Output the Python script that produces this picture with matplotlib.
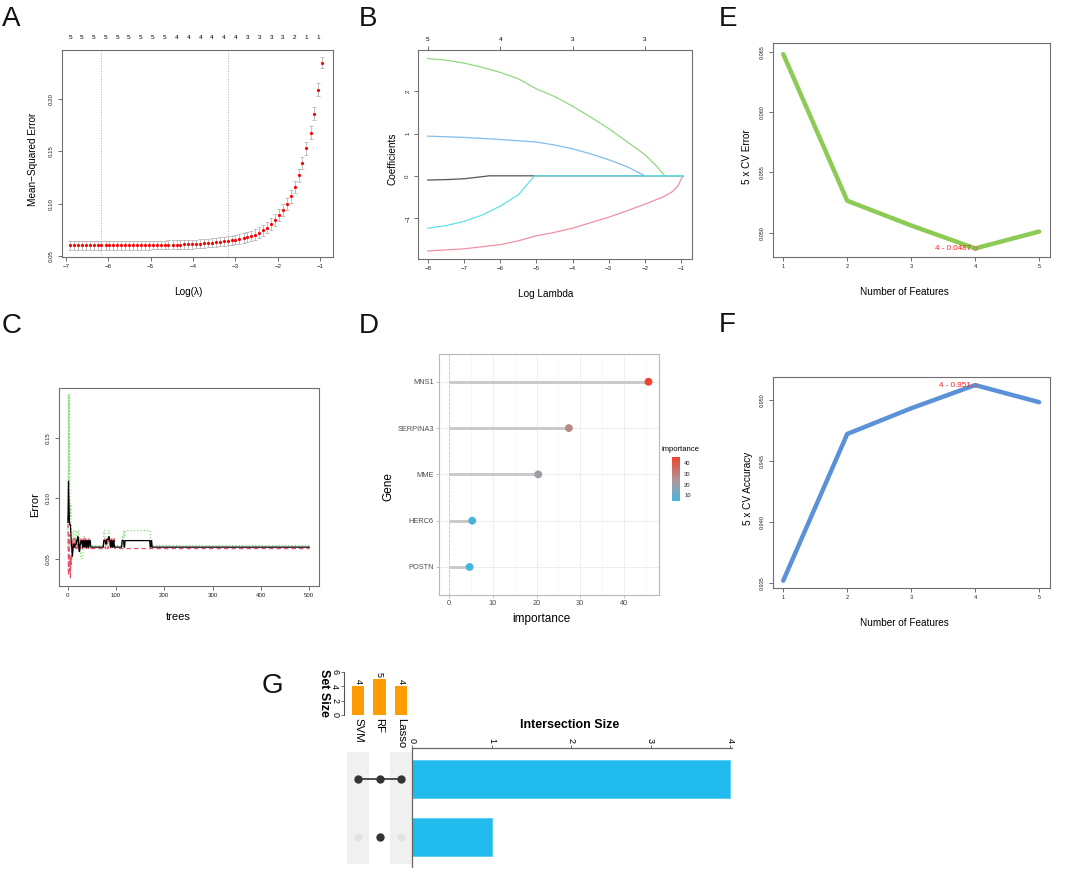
import numpy as np
import matplotlib
matplotlib.use("Agg")
import matplotlib.pyplot as plt
from matplotlib.colors import LinearSegmentedColormap, Normalize

# ======================= DATA =======================
# --- A: cross-validated lasso (cv.glmnet) ---
log_lambda = [-6.90, -6.81, -6.71, -6.62, -6.53, -6.44, -6.34, -6.25, -6.16, -6.06,
              -5.97, -5.88, -5.79, -5.69, -5.60, -5.51, -5.41, -5.32, -5.23, -5.13,
              -5.04, -4.95, -4.86, -4.76, -4.67, -4.58, -4.48, -4.39, -4.30, -4.21,
              -4.11, -4.02, -3.93, -3.83, -3.74, -3.65, -3.56, -3.46, -3.37, -3.28,
              -3.18, -3.09, -3.00, -2.91, -2.81, -2.72, -2.63, -2.53, -2.44, -2.35,
              -2.25, -2.16, -2.07, -1.98, -1.88, -1.79, -1.70, -1.60, -1.51, -1.42,
              -1.33, -1.23, -1.14, -1.05, -0.95]
cv_mse = [0.0602, 0.0602, 0.0602, 0.0602, 0.0602, 0.0602, 0.0602, 0.0602, 0.0602, 0.0602,
          0.0602, 0.0602, 0.0602, 0.0602, 0.0602, 0.0603, 0.0603, 0.0603, 0.0603, 0.0603,
          0.0603, 0.0604, 0.0604, 0.0604, 0.0605, 0.0606, 0.0607, 0.0608, 0.0609, 0.0610,
          0.0611, 0.0613, 0.0615, 0.0617, 0.0620, 0.0623, 0.0627, 0.0631, 0.0635, 0.0640,
          0.0645, 0.0651, 0.0657, 0.0664, 0.0671, 0.0680, 0.0690, 0.0704, 0.0722, 0.0745,
          0.0772, 0.0805, 0.0845, 0.0890, 0.0940, 0.1000, 0.1070, 0.1160, 0.1270, 0.1390,
          0.1530, 0.1680, 0.1860, 0.2090, 0.2350]
cv_sd = [0.0042, 0.0042, 0.0042, 0.0042, 0.0042, 0.0042, 0.0042, 0.0042, 0.0042, 0.0042,
         0.0042, 0.0042, 0.0042, 0.0042, 0.0042, 0.0042, 0.0042, 0.0042, 0.0042, 0.0042,
         0.0042, 0.0042, 0.0042, 0.0042, 0.0042, 0.0042, 0.0042, 0.0042, 0.0042, 0.0042,
         0.0042, 0.0042, 0.0042, 0.0042, 0.0042, 0.0042, 0.0042, 0.0042, 0.0042, 0.0042,
         0.0043, 0.0044, 0.0045, 0.0046, 0.0047, 0.0048, 0.0049, 0.0050, 0.0051, 0.0052,
         0.0053, 0.0054, 0.0055, 0.0056, 0.0057, 0.0058, 0.0059, 0.0060, 0.0060, 0.0060,
         0.0060, 0.0061, 0.0062, 0.0060, 0.0055]
nonzero_counts = [5, 5, 5, 5, 5, 5, 5, 5, 5, 4, 4, 4, 4, 4, 4, 3, 3, 3, 3, 2, 1, 1]
log_lambda_min = -6.16
log_lambda_1se = -3.18

# --- B: lasso coefficient paths ---
path_black_x = [-8.0, -7.5, -7.0, -6.6, -6.3, -0.95]
path_black_y = [-0.10, -0.09, -0.07, -0.03, 0.0, 0.0]
path_pink_x = [-8.0, -7.0, -6.0, -5.5, -5.0, -4.5, -4.0, -3.5, -3.0, -2.5, -2.0, -1.5, -1.25, -1.1, -0.95]
path_pink_y = [-1.78, -1.73, -1.63, -1.54, -1.42, -1.34, -1.24, -1.11, -0.98, -0.83, -0.67, -0.50, -0.38, -0.25, 0.0]
path_green_x = [-8.0, -7.5, -7.0, -6.5, -6.0, -5.5, -5.0, -4.5, -4.0, -3.5, -3.0, -2.5, -2.0, -1.7, -1.45, -0.95]
path_green_y = [2.78, 2.74, 2.67, 2.57, 2.45, 2.30, 2.06, 1.88, 1.65, 1.39, 1.12, 0.81, 0.50, 0.25, 0.0, 0.0]
path_blue_x = [-8.0, -7.0, -6.0, -5.0, -4.5, -4.0, -3.5, -3.0, -2.5, -2.0, -0.95]
path_blue_y = [0.94, 0.91, 0.86, 0.80, 0.73, 0.64, 0.52, 0.38, 0.22, 0.0, 0.0]
path_cyan_x = [-8.0, -7.5, -7.0, -6.5, -6.0, -5.5, -5.05, -0.95]
path_cyan_y = [-1.24, -1.18, -1.08, -0.93, -0.72, -0.45, 0.0, 0.0]
path_top_at = [-8, -6, -4, -2]
path_top_labels = ["5", "4", "3", "3"]

# --- C: random forest error vs trees (value holds from each start tree) ---
n_trees = 500
oob_start = [1, 2, 3, 4, 5, 7, 8, 10, 11, 12, 14, 16, 19, 21, 23, 24, 26, 28, 31, 33, 35, 37, 39,
             41, 43, 45, 48, 75, 79, 81, 85, 87, 89, 91, 93, 95, 97, 113, 117, 119, 171, 173, 175]
oob_val = [0.080, 0.114, 0.095, 0.080, 0.078, 0.070, 0.060, 0.052, 0.056, 0.062, 0.0595, 0.062,
           0.0649, 0.068, 0.062, 0.056, 0.062, 0.0649, 0.0595, 0.0649, 0.0595, 0.0649, 0.0595,
           0.0649, 0.0595, 0.0649, 0.0595, 0.0649, 0.062, 0.066, 0.068, 0.0649, 0.0595, 0.0649,
           0.0595, 0.0649, 0.0595, 0.0649, 0.0595, 0.0649, 0.0595, 0.0649, 0.0595]
cls1_start = [1, 2, 3, 4, 5, 6, 7, 8, 9, 10, 12, 14, 15, 17, 18, 20, 21, 23, 24, 27, 28, 31, 32,
              35, 36, 39, 40, 43, 44, 46, 75, 78, 80, 83, 85, 88, 90, 93, 95, 98]
cls1_val = [0.085, 0.036, 0.070, 0.040, 0.052, 0.034, 0.050, 0.045, 0.066, 0.0583, 0.0663, 0.0583,
            0.0663, 0.0583, 0.0663, 0.0583, 0.0663, 0.0583, 0.0663, 0.0583, 0.0663, 0.0583, 0.0663,
            0.0583, 0.0663, 0.0583, 0.0663, 0.0583, 0.0663, 0.0583, 0.0663, 0.0583, 0.0663, 0.0583,
            0.0663, 0.0583, 0.0663, 0.0583, 0.0663, 0.0583]
cls2_start = [1, 2, 3, 4, 5, 6, 7, 8, 9, 11, 14, 17, 20, 22, 24, 27, 32, 34, 38, 75, 78, 84, 88,
              113, 115, 116, 118, 120, 172]
cls2_val = [0.060, 0.186, 0.110, 0.186, 0.100, 0.085, 0.095, 0.0608, 0.050, 0.0732, 0.0608, 0.0732,
            0.0608, 0.0732, 0.0608, 0.050, 0.0608, 0.068, 0.0608, 0.0732, 0.0608, 0.0732, 0.0608,
            0.068, 0.0608, 0.0732, 0.068, 0.0732, 0.0608]

# --- D: RF gene importance ---
genes = ["POSTN", "HERC6", "MME", "SERPINA3", "MNS1"]
importance = [4.7, 5.3, 20.4, 27.4, 45.6]

# --- E / F: SVM-RFE ---
n_features = [1, 2, 3, 4, 5]
cv_error = [0.0648, 0.05265, 0.0506, 0.0487, 0.0501]
cv_accuracy = [0.9352, 0.9472, 0.9493, 0.9512, 0.9498]

# --- G: UpSet ---
set_names = ["SVM", "RF", "Lasso"]
set_sizes = [4, 5, 4]
inter_members = [[1, 1, 1], [0, 1, 0]]
inter_sizes = [4, 1]

# ======================= FIGURE =======================
W, H = 1065, 873
plt.rcParams['font.family'] = ['Liberation Sans', 'DejaVu Sans']
fig = plt.figure(figsize=(W / 100, H / 100), dpi=100)


def add_ax(l, t, r, b):
    return fig.add_axes([l / W, 1 - b / H, (r - l) / W, (b - t) / H])


def ftext(x, y, s, **kw):
    return fig.text(x / W, 1 - y / H, s, **kw)


def r_style(ax, xticks, yticks, ylabels=None, lsize=4.4):
    ax.set_xticks(xticks)
    ax.set_yticks(yticks)
    if ylabels is not None:
        ax.set_yticklabels(ylabels)
    for s in ax.spines.values():
        s.set_color('#6e6e6e')
        s.set_linewidth(0.8)
    ax.tick_params(direction='out', length=3, width=0.6, color='#555555',
                   labelcolor='#222222', labelsize=lsize, pad=2.2)
    ax.tick_params(axis='y', labelrotation=90, pad=2.6)
    for lb in ax.get_yticklabels():
        lb.set_va('center')


LAB = 7.2
letter_kw = dict(fontsize=20, ha='left', va='top', color='#111111')

# ---------------- A ----------------
axA = add_ax(62, 50, 333, 257)
axA.errorbar(log_lambda, cv_mse, yerr=cv_sd, fmt='none', ecolor='#b5b5b5',
             elinewidth=0.6, capsize=1.6, capthick=0.6, zorder=2)
axA.plot(log_lambda, cv_mse, 'o', color='#ff0000', ms=2.3, mec='none', zorder=3)
axA.axvline(log_lambda_min, color='#b0b0b0', ls=':', lw=0.7)
axA.axvline(log_lambda_1se, color='#b0b0b0', ls=':', lw=0.7)
axA.set_xlim(-7.09, -0.70)
axA.set_ylim(0.049, 0.247)
r_style(axA, [-7, -6, -5, -4, -3, -2, -1], [0.05, 0.10, 0.15, 0.20],
        ['0.05', '0.10', '0.15', '0.20'])
secA = axA.secondary_xaxis('top')
secA.set_xticks(log_lambda[::3], labels=[str(n) for n in nonzero_counts])
secA.tick_params(length=0, labelsize=4.6, pad=7)
secA.spines['top'].set_visible(False)
ftext(33, 159, 'Mean\u2212Squared Error', rotation=90, ha='center', va='center', fontsize=LAB)
ftext(188, 292, 'Log(\u03bb)', ha='center', va='center', fontsize=LAB)
ftext(2, 6, 'A', **letter_kw)

# ---------------- B ----------------
axB = add_ax(418, 50, 692, 259)
axB.plot(path_black_x, path_black_y, color='#555555', lw=0.9)
axB.plot(path_pink_x, path_pink_y, color='#ee91a4', lw=0.9)
axB.plot(path_green_x, path_green_y, color='#93d682', lw=0.9)
axB.plot(path_blue_x, path_blue_y, color='#82bdec', lw=0.9)
axB.plot(path_cyan_x, path_cyan_y, color='#5fe3e6', lw=0.9)
axB.set_xlim(-8.27, -0.70)
axB.set_ylim(-1.97, 2.98)
r_style(axB, [-8, -7, -6, -5, -4, -3, -2, -1], [-1, 0, 1, 2])
secB = axB.secondary_xaxis('top')
secB.set_xticks(path_top_at, labels=path_top_labels)
secB.tick_params(direction='out', length=3, width=0.6, color='#555555', labelsize=4.6, pad=2.5)
secB.spines['top'].set_visible(False)
ftext(392, 159, 'Coefficients', rotation=90, ha='center', va='center', fontsize=LAB)
ftext(546, 294, 'Log Lambda', ha='center', va='center', fontsize=LAB)
ftext(359, 6, 'B', **letter_kw)

# ---------------- E ----------------
axE = add_ax(773, 43, 1050, 257)
axE.plot(n_features, cv_error, color='#8ccb55', lw=3.2, solid_capstyle='round')
best_e = int(np.argmin(cv_error))
axE.plot(n_features[best_e], cv_error[best_e], 'o', mfc='none', mec='#e05050', ms=2.6, mew=0.5)
axE.text(n_features[best_e] - 0.07, cv_error[best_e],
         f"{n_features[best_e]} - {cv_error[best_e]:.4f}".replace('0.0487', '0.0487'),
         color='#ff2020', fontsize=5.8, ha='right', va='center')
axE.set_xlim(0.84, 5.17)
axE.set_ylim(0.04799, 0.06572)
r_style(axE, [1, 2, 3, 4, 5], [0.050, 0.055, 0.060, 0.065],
        ['0.050', '0.055', '0.060', '0.065'], lsize=4.0)
ftext(747, 157, '5 x CV Error', rotation=90, ha='center', va='center', fontsize=LAB)
ftext(904, 292, 'Number of Features', ha='center', va='center', fontsize=LAB)
ftext(719, 6, 'E', **letter_kw)

# ---------------- C ----------------
axC = add_ax(59, 388, 319, 586)
trees = np.arange(1, n_trees + 1)


def held(starts, vals):
    idx = np.searchsorted(starts, trees, side='right') - 1
    return np.asarray(vals)[idx]


axC.plot(trees, held(cls2_start, cls2_val), color='#86dc78', ls=':', lw=0.9)
axC.plot(trees, held(cls1_start, cls1_val), color='#e8506c', ls=(0, (3.5, 2.5)), lw=0.9)
axC.plot(trees, held(oob_start, oob_val), color='#000000', lw=0.9)
axC.set_xlim(-17.6, 520)
axC.set_ylim(0.0273, 0.1913)
r_style(axC, [0, 100, 200, 300, 400, 500], [0.05, 0.10, 0.15], ['0.05', '0.10', '0.15'])
ftext(35, 505, 'Error', rotation=90, ha='center', va='center', fontsize=8)
ftext(178, 617, 'trees', ha='center', va='center', fontsize=8)
ftext(2, 313, 'C', **letter_kw)

# ---------------- D ----------------
axD = add_ax(439, 354, 659, 595)
ypos = np.arange(1, len(genes) + 1)
cmap = LinearSegmentedColormap.from_list('imp', [(0, '#45b6da'), (0.45, '#ac9a9c'), (1, '#ef4430')])
norm = Normalize(vmin=min(importance), vmax=max(importance))
axD.set_xticks([0, 10, 20, 30, 40])
axD.set_xticks([5, 15, 25, 35, 45], minor=True)
axD.set_yticks(ypos)
axD.set_yticklabels(genes)
axD.grid(True, which='major', color='#ebebeb', lw=0.6)
axD.grid(True, which='minor', axis='x', color='#f3f3f3', lw=0.4)
axD.set_axisbelow(True)
axD.axvline(0, color='#c8c8c8', ls='--', lw=0.6, zorder=1)
axD.hlines(ypos, 0, importance, color='#c9c9c9', lw=2.1, zorder=2)
sc = axD.scatter(importance, ypos, c=importance, cmap=cmap, norm=norm, s=32, zorder=3, edgecolors='none')
axD.set_xlim(-2.29, 48.0)
axD.set_ylim(0.395, 5.6)
for s in axD.spines.values():
    s.set_color('#b8b8b8')
    s.set_linewidth(0.8)
axD.tick_params(which='major', length=2.2, width=0.6, color='#b8b8b8', labelcolor='#4d4d4d', labelsize=5.3, pad=1.5)
axD.tick_params(which='minor', length=0)
ftext(388, 487, 'Gene', rotation=90, ha='center', va='center', fontsize=8.5)
ftext(541, 619, 'importance', ha='center', va='center', fontsize=8.5)
caxD = add_ax(672, 457, 680, 501)
cb = fig.colorbar(sc, cax=caxD, ticks=[10, 20, 30, 40])
cb.outline.set_visible(False)
caxD.tick_params(length=1.5, width=0.5, color='white', labelsize=4.2, pad=1.5, labelcolor='#222222')
ftext(661, 450, 'importance', ha='left', va='center', fontsize=5.5)
ftext(359, 313, 'D', **letter_kw)

# ---------------- F ----------------
axF = add_ax(773, 377, 1050, 588)
axF.plot(n_features, cv_accuracy, color='#5b91d9', lw=3.2, solid_capstyle='round')
best_f = int(np.argmax(cv_accuracy))
axF.plot(n_features[best_f], cv_accuracy[best_f], 'o', mfc='none', mec='#e05050', ms=2.6, mew=0.5)
axF.text(n_features[best_f] - 0.07, cv_accuracy[best_f],
         f"{n_features[best_f]} - {cv_accuracy[best_f]:.3f}",
         color='#ff2020', fontsize=5.8, ha='right', va='center')
axF.set_xlim(0.84, 5.17)
axF.set_ylim(0.9346, 0.95186)
r_style(axF, [1, 2, 3, 4, 5], [0.935, 0.940, 0.945, 0.950],
        ['0.935', '0.940', '0.945', '0.950'], lsize=4.0)
ftext(748, 488, '5 x CV Accuracy', rotation=90, ha='center', va='center', fontsize=LAB)
ftext(904, 623, 'Number of Features', ha='center', va='center', fontsize=LAB)
ftext(719, 312, 'F', **letter_kw)

# ---------------- G (UpSet) ----------------
col_px0, col_dx = 358.0, 21.5
row_px0, row_dy = 779.0, 58.0
ncol = len(set_names)

# set size bars
axS = add_ax(344, 672, 411.75, 715)
axS.bar(range(ncol), set_sizes, width=0.6, color='#ff9c00')
for i, v in enumerate(set_sizes):
    axS.text(i, v + 0.35, str(v), rotation=-90, ha='center', va='bottom', fontsize=6.5)
axS.set_xlim((344 - col_px0) / col_dx, (411.75 - col_px0) / col_dx)
axS.set_ylim(0, 6)
for k in ['top', 'right', 'bottom']:
    axS.spines[k].set_visible(False)
axS.spines['left'].set_color('#555555')
axS.spines['left'].set_linewidth(0.8)
axS.set_xticks([])
axS.set_yticks([0, 2, 4, 6])
axS.tick_params(axis='y', length=2.5, width=0.6, color='#555555', labelsize=6.5, pad=1, labelrotation=-90)
for lb in axS.get_yticklabels():
    lb.set_va('center')
ftext(324, 693, 'Set Size', rotation=-90, ha='center', va='center', fontsize=9, fontweight='bold')
for i, nm in enumerate(set_names):
    ftext(col_px0 + col_dx * i, 718, nm, rotation=-90, ha='center', va='top', fontsize=8.2)

# matrix
axM = add_ax(col_px0 - 0.5 * col_dx, 752, col_px0 + 2.5 * col_dx, 864)
axM.set_xlim(-0.5, ncol - 0.5)
axM.set_ylim((864 - row_px0) / row_dy, (752 - row_px0) / row_dy)
for i in range(0, ncol, 2):
    axM.axvspan(i - 0.5, i + 0.5, color='#f0f0f0', lw=0)
for r, mem in enumerate(inter_members):
    on = [c for c in range(ncol) if mem[c]]
    off = [c for c in range(ncol) if not mem[c]]
    if len(on) > 1:
        axM.plot([min(on), max(on)], [r, r], color='#333333', lw=1.2, zorder=2)
    axM.plot(on, [r] * len(on), 'o', color='#333333', ms=5, zorder=3)
    axM.plot(off, [r] * len(off), 'o', color='#e3e3e3', ms=5, zorder=3)
axM.axis('off')

# intersection bars
axI = add_ax(412, 748, 732, 867)
axI.barh(range(len(inter_sizes)), inter_sizes, height=0.65, color='#22bbee', edgecolor='#5cccf2', lw=0.6)
axI.set_xlim(0, 320 / 79.5)
axI.set_ylim((867 - row_px0) / row_dy, (748 - row_px0) / row_dy)
axI.xaxis.tick_top()
axI.set_xticks([0, 1, 2, 3, 4])
axI.set_yticks([])
for k in ['right', 'bottom']:
    axI.spines[k].set_visible(False)
for k in ['top', 'left']:
    axI.spines[k].set_color('#666666')
    axI.spines[k].set_linewidth(0.9)
axI.tick_params(axis='x', length=2.5, width=0.6, color='#555555', labelsize=6.5, pad=1, labelrotation=-90)
ftext(570, 725, 'Intersection Size', ha='center', va='center', fontsize=9, fontweight='bold')
ftext(262, 673, 'G', **letter_kw)

fig.savefig('out.png', dpi=100)
